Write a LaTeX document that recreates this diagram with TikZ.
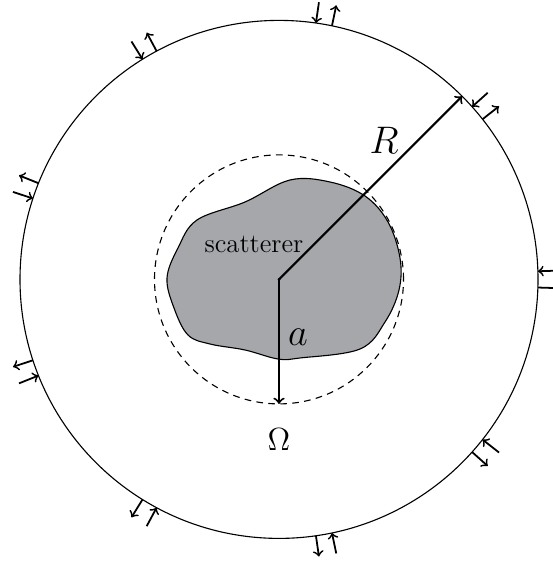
\documentclass[tikz,border=0pt]{standalone}
\usepackage{tikz}
\usetikzlibrary{calc}
\definecolor{blobgray}{RGB}{166,167,171}

\begin{document}
\begin{tikzpicture}[x=0.45pt, y=0.45pt,
  rim/.style={line width=0.5pt},
  probe/.style={dash pattern=on 3pt off 2.4pt, line width=0.5pt},
  radarrow/.style={->, line width=0.9pt},
  flux/.style={->, line width=0.8pt},
  lbl/.style={font=\fontsize{16}{18}\selectfont}
]
\useasboundingbox (0,0) rectangle (552,563);
\coordinate (o) at (279,283.6);
\draw[rim] (o) circle (259);
\draw[probe] (o) circle (124.5);
\draw[fill=blobgray, line width=0.5pt] plot[smooth cycle, tension=0.6] coordinates {
  (197,343) (245,361) (290,383) (330,381) (365,367) (388,341) (400,305)
  (399,273) (385,241) (360,214) (300,205) (278,204) (245,213) (210,219)
  (188,228) (174,255) (167,285) (178,315)};
\node[font=\fontsize{12}{14}\selectfont] (scat) at (254,319) {scatterer};
\coordinate (rtip) at ($(o)+(45:259)$);
\coordinate (atip) at ($(o)+(270:124.5)$);
\draw[radarrow] (o) -- (rtip);
\draw[radarrow] (o) -- (atip);
\fill (o) circle (1.5);
\node[lbl] (rlab) at (384,423) {$R$};
\node[lbl] (alab) at (298,226) {$a$};
\node[font=\fontsize{14}{16}\selectfont] (omega) at (279,123) {$\Omega$};
% incoming and outgoing waves on the outer boundary
\foreach \ang in {0,40,...,320} {
  \draw[flux] ($(o)+(\ang+1.8:280)$) -- ($(o)+(\ang+1.8:259)$);
  \draw[flux] ($(o)+(\ang-1.8:259)$) -- ($(o)+(\ang-1.8:280)$);
}
\end{tikzpicture}
\end{document}
